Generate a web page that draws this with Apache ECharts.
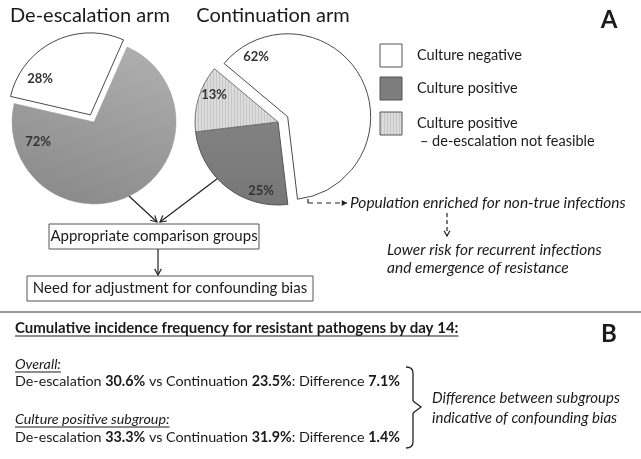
<!DOCTYPE html>
<html>
<head>
<meta charset="utf-8">
<script src="https://cdn.jsdelivr.net/npm/echarts@6/dist/echarts.min.js"></script>
<style>
html, body { margin: 0; padding: 0; background: #fff; }
#main { width: 641px; height: 459px; }
</style>
</head>
<body>
<div id="main"></div>
<script>
var FONT = 'Lato, "Liberation Sans", sans-serif';

// data
var categories = ['Culture negative', 'Culture positive', 'Culture positive – de-escalation not feasible'];
var arms = ['De-escalation arm', 'Continuation arm'];
var deEscalationShare = [28, 72];        // negative, positive
var continuationShare = [62, 25, 13];    // negative, positive, not feasible
var overallRates = [30.6, 23.5];         // de-escalation, continuation
var positiveRates = [33.3, 31.9];

// hatched fill for "not feasible"
var hatch = document.createElement('canvas');
hatch.width = 3; hatch.height = 3;
var hc = hatch.getContext('2d');
hc.fillStyle = '#dcdcdc'; hc.fillRect(0, 0, 3, 3);
hc.fillStyle = '#c6c6c6'; hc.fillRect(0, 0, 1, 3);

var negStyle = { color: '#ffffff', borderColor: '#4a4a4a', borderWidth: 1 };
var posLeftStyle = {
    color: { type: 'linear', x: 0.6, y: 0, x2: 0.3, y2: 1, colorStops: [{ offset: 0, color: '#adadad' }, { offset: 1, color: '#8a8a8a' }] },
    borderColor: '#999', borderWidth: 0.5
};
var posStyle = {
    color: { type: 'linear', x: 0, y: 0, x2: 0, y2: 1, colorStops: [{ offset: 0, color: '#828282' }, { offset: 1, color: '#777777' }] },
    borderColor: '#555', borderWidth: 1
};
var nfStyle = { color: { image: hatch, repeat: 'repeat' }, borderColor: '#777', borderWidth: 1 };
var legendFill = ['#ffffff', '#7d7d7d', { image: hatch, repeat: 'repeat' }];

// where the percentage labels sit (per pie, per slice)
var labelSpots = [
    [[40, 79], [38, 142]],
    [[256, 57], [261, 191], [214, 95]]
];

function measure(text, font) {
    var c = document.createElement('canvas').getContext('2d');
    c.font = font;
    return c.measureText(text).width;
}

function txt(x, y, text, o) {
    o = o || {};
    return {
        type: 'text', x: x, y: y, silent: true, z: 10,
        style: {
            text: text, fill: o.fill || '#1a1a1a',
            fontFamily: FONT, fontSize: o.size || 15,
            fontWeight: o.weight || 'normal', fontStyle: o.style || 'normal',
            textAlign: o.align || 'left', align: o.align || 'left',
            textVerticalAlign: 'middle', verticalAlign: 'middle',
            rich: o.rich
        }
    };
}

function line(x1, y1, x2, y2, o) {
    o = o || {};
    return {
        type: 'line', silent: true,
        shape: { x1: x1, y1: y1, x2: x2, y2: y2 },
        style: { stroke: o.color || '#222', lineWidth: o.width || 1.2, lineDash: o.dash || null }
    };
}

function curve(x1, y1, cx, cy, x2, y2) {
    return {
        type: 'bezierCurve', silent: true,
        shape: { x1: x1, y1: y1, cpx1: cx, cpy1: cy, x2: x2, y2: y2 },
        style: { stroke: '#222', lineWidth: 1.3, fill: null }
    };
}

function arrow(x1, y1, x2, y2, o) {
    o = o || {};
    var a = Math.atan2(y2 - y1, x2 - x1), L = o.head || 7, w = 0.5;
    var p1 = [x2 - L * Math.cos(a - w), y2 - L * Math.sin(a - w)];
    var p2 = [x2 - L * Math.cos(a + w), y2 - L * Math.sin(a + w)];
    var out = [line(x1, y1, x2, y2, o)];
    if (o.filled) {
        out.push({ type: 'polygon', silent: true, shape: { points: [p1, [x2, y2], p2] }, style: { fill: o.color || '#222' } });
    } else {
        out.push({ type: 'polyline', silent: true, shape: { points: [p1, [x2, y2], p2] }, style: { stroke: o.color || '#222', lineWidth: 1.2, fill: null } });
    }
    return out;
}

function box(x, y, w, h, label) {
    return [
        { type: 'rect', silent: true, shape: { x: x, y: y, width: w, height: h }, style: { fill: '#fff', stroke: '#555', lineWidth: 1 } },
        txt(x + w / 2, y + h / 2, label, { align: 'center' })
    ];
}

function underlined(x, y, text, o) {
    var font = (o.style || 'normal') + ' ' + (o.weight || 'normal') + ' ' + (o.size || 15) + 'px ' + FONT;
    var w = measure(text, font);
    return [txt(x, y, text, o), line(x, y + 8, x + w, y + 8, { width: 1, color: '#1a1a1a' })];
}

function rateLine(rates) {
    var diff = (rates[0] - rates[1]).toFixed(1);
    return 'De-escalation {b|' + rates[0].toFixed(1) + '%} vs Continuation {b|' + rates[1].toFixed(1) + '%}: Difference {b|' + diff + '%}';
}
var boldRich = { b: { fontWeight: 'bold', fontFamily: FONT, fontSize: 14.3, fill: '#1a1a1a' } };

var graphics = [];
// arm titles
graphics.push(txt(90, 16, arms[0], { size: 20, align: 'center' }));
graphics.push(txt(273, 16, arms[1], { size: 20, align: 'center' }));
// panel letters
graphics.push(txt(609, 20, 'A', { size: 24, weight: 'bold', align: 'center' }));
graphics.push(txt(609, 334, 'B', { size: 24, weight: 'bold', align: 'center' }));

// labels of the pulled-out slices (the select state drops labelLayout)
graphics.push(txt(labelSpots[0][0][0], labelSpots[0][0][1], deEscalationShare[0] + '%', { size: 13, weight: 'bold', align: 'center', fill: '#333' }));
graphics.push(txt(labelSpots[1][0][0], labelSpots[1][0][1], continuationShare[0] + '%', { size: 13, weight: 'bold', align: 'center', fill: '#333' }));

// legend
var legendY = [44, 77, 112];
categories.forEach(function (name, i) {
    graphics.push({ type: 'rect', silent: true, shape: { x: 380, y: legendY[i], width: 22, height: 23 }, style: { fill: legendFill[i], stroke: '#555', lineWidth: 1 } });
    var parts = name.split(' – ');
    graphics.push(txt(417, legendY[i] + 11, parts[0], { size: 14.5 }));
    if (parts[1]) graphics.push(txt(420, legendY[i] + 29, '– ' + parts[1], { size: 14.5 }));
});

// flow arrows and boxes
graphics = graphics.concat(arrow(103, 172, 157, 222));
graphics = graphics.concat(arrow(238, 163, 160, 222));
graphics = graphics.concat(box(49, 224, 210, 25, 'Appropriate comparison groups'));
graphics = graphics.concat(arrow(158, 249, 158, 275));
graphics = graphics.concat(box(27, 276, 286, 25, 'Need for adjustment for confounding bias'));

// dashed path to the enriched population note
graphics.push(line(308, 172, 308, 203, { dash: [5, 4] }));
graphics = graphics.concat(arrow(308, 203, 347, 203, { dash: [5, 4], filled: true, head: 6 }));
graphics.push(txt(350, 203, 'Population enriched for non-true infections', { style: 'italic', size: 15.5 }));
graphics = graphics.concat(arrow(447, 213, 447, 236, { dash: [4, 3], head: 6 }));
graphics.push(txt(387, 250, 'Lower risk for recurrent infections', { style: 'italic', size: 15.5 }));
graphics.push(txt(387, 268, 'and emergence of resistance', { style: 'italic', size: 15.5 }));

// separator
graphics.push(line(0, 312, 641, 312, { color: '#9a9a9a', width: 2 }));

// panel B
graphics = graphics.concat(underlined(15, 328, 'Cumulative incidence frequency for resistant pathogens by day 14:', { weight: 'bold', size: 15 }));
graphics = graphics.concat(underlined(15, 364, 'Overall:', { style: 'italic', size: 14.3 }));
graphics.push(txt(15, 381, rateLine(overallRates), { rich: boldRich, size: 14.3 }));
graphics = graphics.concat(underlined(15, 419, 'Culture positive subgroup:', { style: 'italic', size: 14.3 }));
graphics.push(txt(15, 437, rateLine(positiveRates), { rich: boldRich, size: 14.3 }));
// brace
graphics.push(curve(406, 367, 413, 367, 413, 373));
graphics.push(line(413, 373, 413, 401, { width: 1.3 }));
graphics.push({ type: 'polyline', silent: true, shape: { points: [[413, 401], [421, 407], [413, 413]] }, style: { stroke: '#222', lineWidth: 1.3, fill: null } });
graphics.push(line(413, 413, 413, 442, { width: 1.3 }));
graphics.push(curve(413, 442, 413, 448, 406, 448));
graphics.push(txt(432, 398, 'Difference between subgroups', { style: 'italic', size: 15 }));
graphics.push(txt(432, 418, 'indicative of confounding bias', { style: 'italic', size: 15 }));

var pieLabel = { show: true, position: 'inside', formatter: '{c}%', fontFamily: FONT, fontWeight: 'bold', fontSize: 13, color: '#333' };
function placeLabel(p) {
    var s = labelSpots[p.seriesIndex][p.dataIndex];
    return { x: s[0], y: s[1], align: 'center', verticalAlign: 'middle' };
}

var chart = echarts.init(document.getElementById('main'), null, { renderer: 'canvas' });
chart.setOption({
    backgroundColor: '#fff',
    animation: false,
    series: [
        {
            type: 'pie', name: arms[0], center: [94, 122], radius: [0, 82],
            startAngle: 167, selectedMode: 'single', selectedOffset: 8,
            label: pieLabel, labelLine: { show: false }, labelLayout: placeLabel,
            emphasis: { disabled: true }, silent: true,
            data: [
                { name: categories[0], value: deEscalationShare[0], selected: true, itemStyle: negStyle, label: { show: false } },
                { name: categories[1], value: deEscalationShare[1], itemStyle: posLeftStyle }
            ]
        },
        {
            type: 'pie', name: arms[1], center: [278, 122], radius: [0, 83],
            startAngle: 140, selectedMode: 'single', selectedOffset: 11,
            label: pieLabel, labelLine: { show: false }, labelLayout: placeLabel,
            emphasis: { disabled: true }, silent: true,
            data: [
                { name: categories[0], value: continuationShare[0], selected: true, itemStyle: negStyle, label: { show: false } },
                { name: categories[1], value: continuationShare[1], itemStyle: posStyle },
                { name: categories[2], value: continuationShare[2], itemStyle: nfStyle }
            ]
        }
    ],
    graphic: graphics
});
</script>
</body>
</html>
